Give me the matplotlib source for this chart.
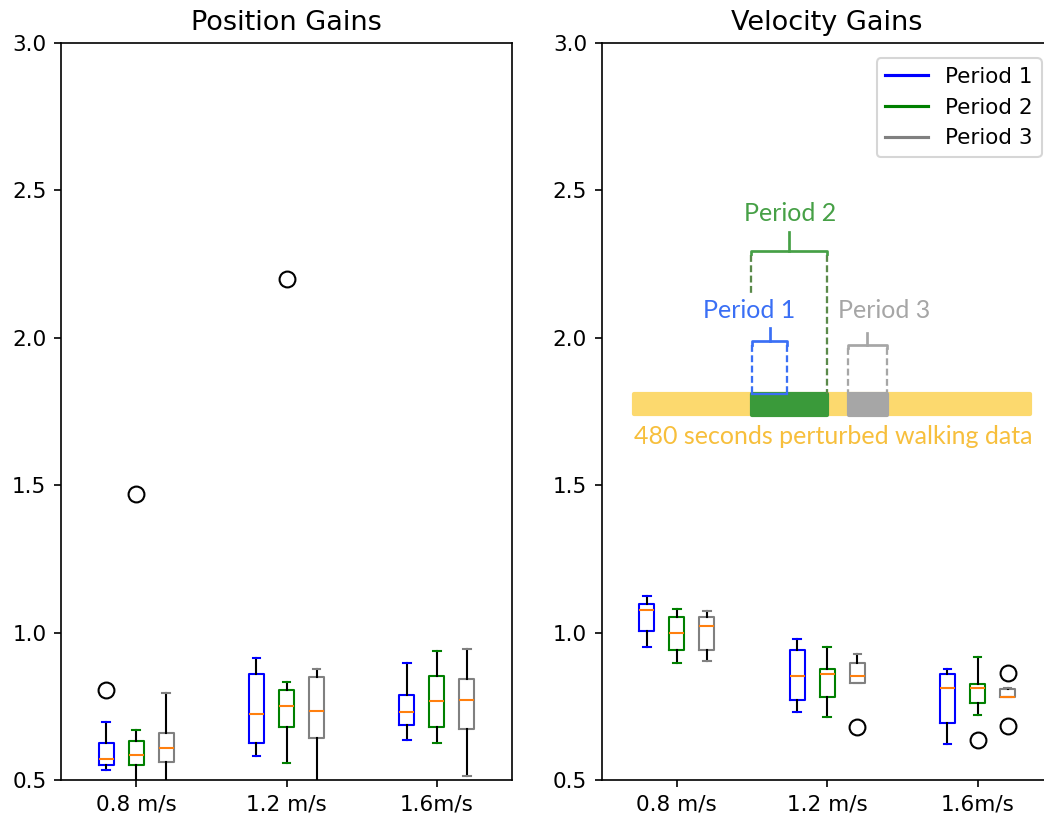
import matplotlib
matplotlib.use("Agg")
import matplotlib.pyplot as plt
from matplotlib.lines import Line2D
from matplotlib.patches import Rectangle

# ---- data -------------------------------------------------------------
speeds = ["0.8 m/s", "1.2 m/s", "1.6m/s"]
periods = ["Period 1", "Period 2", "Period 3"]
period_colors = ["blue", "green", "gray"]

# Position gains: five-number summaries per period (one value per speed)
pos_whislo = [[0.535, 0.583, 0.637], [0.45, 0.557, 0.627], [0.45, 0.45, 0.512]]
pos_q1     = [[0.550, 0.627, 0.687], [0.550, 0.680, 0.681], [0.561, 0.641, 0.674]]
pos_med    = [[0.572, 0.724, 0.729], [0.584, 0.751, 0.767], [0.610, 0.734, 0.771]]
pos_q3     = [[0.627, 0.858, 0.788], [0.631, 0.805, 0.853], [0.658, 0.848, 0.843]]
pos_whishi = [[0.696, 0.913, 0.896], [0.670, 0.832, 0.936], [0.794, 0.877, 0.945]]
pos_fliers = [[[0.805], [], []], [[1.47], [2.20], []], [[], [], []]]

# Velocity gains
vel_whislo = [[0.951, 0.729, 0.622], [0.897, 0.714, 0.719], [0.904, 0.830, 0.781]]
vel_q1     = [[1.004, 0.771, 0.694], [0.940, 0.783, 0.760], [0.940, 0.830, 0.781]]
vel_med    = [[1.075, 0.853, 0.811], [1.000, 0.860, 0.811], [1.021, 0.853, 0.783]]
vel_q3     = [[1.098, 0.940, 0.858], [1.054, 0.877, 0.827], [1.054, 0.896, 0.808]]
vel_whishi = [[1.125, 0.978, 0.877], [1.081, 0.951, 0.918], [1.074, 0.929, 0.811]]
vel_fliers = [[[], [], []], [[], [], [0.636]], [[], [0.681], [0.864, 0.684]]]

group_pos = [1, 2, 3]
offsets = [-0.2, 0.0, 0.2]

DPI = 150
plt.rcParams["font.size"] = 10.3
plt.rcParams["axes.linewidth"] = 0.8
fig = plt.figure(figsize=(1044 / DPI, 818 / DPI), dpi=DPI)
ax_pos = fig.add_axes([61 / 1044, 38 / 818, 451 / 1044, 737 / 818])
ax_vel = fig.add_axes([601.7 / 1044, 38 / 818, 451 / 1044, 737 / 818])


def draw_boxes(ax, whislo, q1, med, q3, whishi, fliers):
    for p, color in enumerate(period_colors):
        stats = []
        for g in range(len(speeds)):
            stats.append(dict(whislo=whislo[p][g], q1=q1[p][g], med=med[p][g],
                              q3=q3[p][g], whishi=whishi[p][g],
                              fliers=fliers[p][g]))
        ax.bxp(stats, positions=[x + offsets[p] for x in group_pos],
               widths=0.1, manage_ticks=False,
               boxprops=dict(color=color, linewidth=1.0),
               capprops=dict(color=color, linewidth=1.0),
               whiskerprops=dict(color="black", linewidth=1.0),
               medianprops=dict(color="C1", linewidth=1.0),
               flierprops=dict(marker="o", markerfacecolor="none",
                               markeredgecolor="black", markersize=7.6,
                               markeredgewidth=1.0))
    ax.set_xlim(0.5, 3.5)
    ax.set_ylim(0.5, 3.0)
    ax.set_xticks(group_pos)
    ax.set_xticklabels(speeds)
    ax.set_yticks([0.5, 1.0, 1.5, 2.0, 2.5, 3.0])


draw_boxes(ax_pos, pos_whislo, pos_q1, pos_med, pos_q3, pos_whishi, pos_fliers)
draw_boxes(ax_vel, vel_whislo, vel_q1, vel_med, vel_q3, vel_whishi, vel_fliers)
ax_pos.set_title("Position Gains", fontsize=13)
ax_vel.set_title("Velocity Gains", fontsize=13)

handles = [Line2D([], [], color=c, linewidth=1.5) for c in period_colors]
ax_vel.legend(handles, periods, loc="upper right",
              bbox_to_anchor=(0.985, 0.985), borderaxespad=0.2)

# ---- timeline sketch of the three analysis windows ---------------------
bar_y0, bar_y1 = 1.742, 1.808
yellow = "#fcd96e"
ax_vel.add_patch(Rectangle((0.715, bar_y0), 3.352 - 0.715, bar_y1 - bar_y0,
                           facecolor=yellow, edgecolor=yellow, linewidth=2,
                           joinstyle="round", zorder=3))
ax_vel.add_patch(Rectangle((1.50, bar_y0 - 0.003), 0.50, bar_y1 - bar_y0 + 0.006,
                           facecolor="#3a9a3a", edgecolor="#3a9a3a", linewidth=2,
                           joinstyle="round", zorder=4))
ax_vel.add_patch(Rectangle((2.145, bar_y0 - 0.003), 0.255, bar_y1 - bar_y0 + 0.006,
                           facecolor="#a6a6a6", edgecolor="#a6a6a6", linewidth=2,
                           joinstyle="round", zorder=4))


def bracket(ax, x0, x1, y, tick_top, color, lw=1.3):
    drop = 0.012
    ax.plot([x0, x0, x1, x1], [y - drop, y, y, y - drop], color=color,
            linewidth=lw, solid_joinstyle="round", zorder=5)
    xm = (x0 + x1) / 2
    ax.plot([xm, xm], [y, tick_top], color=color, linewidth=lw, zorder=5)


def dashed(ax, x, y_top, y_bot, color):
    ax.plot([x, x], [y_top, y_bot], color=color, linewidth=1.1,
            linestyle=(0, (3, 1.5)), zorder=5)


blue_t = "#3a6ff5"
green_t = "#46a046"
green_d = "#5a8a4a"
gray_t = "#a6a6a6"
note_size = 12

# Period 1
dashed(ax_vel, 1.50, 1.976, bar_y1, blue_t)
dashed(ax_vel, 1.735, 1.976, bar_y1, blue_t)
ax_vel.plot([1.50, 1.735], [bar_y1, bar_y1], color=blue_t, linewidth=1.1, zorder=5)
bracket(ax_vel, 1.50, 1.735, 1.988, 2.034, blue_t)
ax_vel.text(1.483, 2.093, "Period 1", color=blue_t, ha="center", va="center",
            family="Lato", fontsize=note_size, zorder=6)

# Period 2
dashed(ax_vel, 1.49, 2.282, 2.148, green_d)
dashed(ax_vel, 2.00, 2.282, bar_y1, green_d)
bracket(ax_vel, 1.49, 2.00, 2.296, 2.359, green_t)
ax_vel.text(1.752, 2.422, "Period 2", color=green_t, ha="center", va="center",
            family="Lato", fontsize=note_size, zorder=6)

# Period 3
dashed(ax_vel, 2.14, 1.964, bar_y1, gray_t)
dashed(ax_vel, 2.395, 1.964, bar_y1, gray_t)
bracket(ax_vel, 2.14, 2.395, 1.976, 2.017, gray_t)
ax_vel.text(2.378, 2.093, "Period 3", color=gray_t, ha="center", va="center",
            family="Lato", fontsize=note_size, zorder=6)

ax_vel.text(2.043, 1.664, "480 seconds perturbed walking data", color="#f7bf3c",
            ha="center", va="center", family="Lato", fontsize=note_size, zorder=6)

fig.savefig("out.png", dpi=DPI)
